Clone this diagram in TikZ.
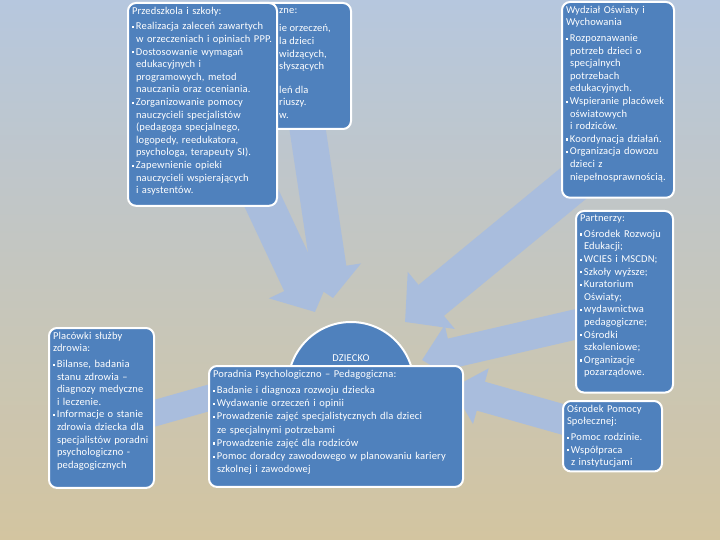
\documentclass[tikz,border=0pt]{standalone}
\usepackage{xcolor}
\usepackage{fontspec}
\setmainfont{Carlito}[LetterSpace=1.5]
\usepackage{tikz}
\usetikzlibrary{arrows.meta,positioning,calc}

\definecolor{boxblue}{RGB}{79,129,189}
\definecolor{arrowblue}{RGB}{169,189,221}
\definecolor{bgtop}{RGB}{182,199,222}
\definecolor{bgmid}{RGB}{226,225,214}
\definecolor{bgbot}{RGB}{211,197,160}

\newcommand{\sq}{\rule[0.35ex]{2.2pt}{2.2pt}\,}
\newcommand{\ind}{\hspace*{4pt}}

\pgfdeclarelayer{bg}
\pgfdeclarelayer{mid}
\pgfsetlayers{bg,mid,main}

\begin{document}
\begin{tikzpicture}[x=1pt, y=-1pt,
  every node/.style={font=\fontsize{10.5}{12.6}\selectfont},
  box/.style={draw=white, line width=2pt, fill=boxblue, rounded corners=8pt,
    text=white, align=left, anchor=north west, inner xsep=4pt, inner ysep=4pt},
  bigarrow/.style={arrowblue, line width=#1},
  bigarrow/.default=38pt]

  % tlo
  \begin{pgfonlayer}{bg}
    \shade[top color=bgtop, middle color=bgmid, bottom color=bgbot]
      (0,0) rectangle (720,540);
  \end{pgfonlayer}
  \useasboundingbox (0,0) rectangle (720,540);

  % ramka zaslonieta
  \node[box, minimum width=100pt, minimum height=126pt] (specjalne) at (250,2) {};
  \node[text=white, align=left, anchor=north west, inner sep=0pt] (specjalnetxt) at (279,8) {%
    zne:\\[6pt] ie orzeczeń,\\ la dzieci\\ widzących,\\ słyszących\\[11pt]
    leń dla\\ riuszy.\\ w.};

  \node[box, text width=141pt] (skoly) at (127,2) {%
    Przedszkola i szkoły:\\[3pt]
    \sq Realizacja zaleceń zawartych\\
    \ind\mbox{w orzeczeniach i opiniach PPP.}\\
    \sq Dostosowanie wymagań\\
    \ind edukacyjnych i\\
    \ind programowych, metod\\
    \ind nauczania oraz oceniania.\\
    \sq Zorganizowanie pomocy\\
    \ind nauczycieli specjalistów\\
    \ind (pedagoga specjalnego,\\
    \ind logopedy, reedukatora,\\
    \ind psychologa, terapeuty SI).\\
    \sq Zapewnienie opieki\\
    \ind nauczycieli wspierających\\
    \ind i asystentów.\\[-4.5pt]\mbox{}};

  \node[box, text width=104pt] (wydzial) at (561,1) {%
    Wydział Oświaty i\\
    Wychowania\\[3pt]
    \sq Rozpoznawanie\\
    \ind potrzeb dzieci o\\
    \ind specjalnych\\
    \ind potrzebach\\
    \ind edukacyjnych.\\
    \sq Wspieranie placówek\\
    \ind oświatowych\\
    \ind i rodziców.\\
    \sq Koordynacja działań.\\
    \sq Organizacja dowozu\\
    \ind dzieci z\\
    \ind niepełnosprawnością.\\[1pt]\mbox{}};

  \node[box, text width=89pt] (partnerzy) at (575,210) {%
    Partnerzy:\\[3pt]
    \sq Ośrodek Rozwoju\\
    \ind Edukacji;\\
    \sq WCIES i MSCDN;\\
    \sq Szkoły wyższe;\\
    \sq Kuratorium\\
    \ind Oświaty;\\
    \sq wydawnictwa\\
    \ind pedagogiczne;\\
    \sq Ośrodki\\
    \ind szkoleniowe;\\
    \sq Organizacje\\
    \ind pozarządowe.\\[0pt]\mbox{}};

  \node[box, text width=91pt] (osrodek) at (562,400) {%
    Ośrodek Pomocy\\
    Społecznej:\\[3pt]
    \sq Pomoc rodzinie.\\
    \sq Współpraca\\
    \ind z instytucjami};

  \node[box, text width=97pt] (placowki) at (48,327) {%
    Placówki służby\\
    zdrowia:\\[3pt]
    \sq Bilanse, badania\\
    \ind stanu zdrowia --\\
    \ind diagnozy medyczne\\
    \ind i leczenie.\\
    \sq Informacje o stanie\\
    \ind zdrowia dziecka dla\\
    \ind specjalistów poradni\\
    \ind psychologiczno -\\
    \ind pedagogicznych\\[3pt]\mbox{}};

  \node[circle, draw=white, line width=2pt, fill=boxblue, minimum size=126pt] (dziecko) at (351,385) {};
  \node[text=white] (dzieckotxt) at (351,358) {DZIECKO};

  \node[box, text width=246pt, font=\fontsize{10.5}{13.2}\selectfont] (poradnia) at (208,365) {%
    Poradnia Psychologiczno -- Pedagogiczna:\\[3pt]
    \sq Badanie i diagnoza rozwoju dziecka\\
    \sq Wydawanie orzeczeń i opinii\\
    \sq Prowadzenie zajęć specjalistycznych dla dzieci\\
    \ind ze specjalnymi potrzebami\\
    \sq Prowadzenie zajęć dla rodziców\\
    \sq Pomoc doradcy zawodowego w planowaniu kariery\\
    \ind szkolnej i zawodowej\\[-3pt]\mbox{}};

  % strzalki do dziecka
  \coordinate (tipA) at (315,312);
  \coordinate (tipB) at (333,298);
  \coordinate (tipC) at (405,322);
  \coordinate (tipD) at (422,360);
  \coordinate (tipE) at (452,388);
  \coordinate (tipF) at (265,382);
  \begin{pgfonlayer}{mid}
    \draw[bigarrow, -{Triangle[width=70pt,length=32pt]}]
      ([shift={(-20,-16)}]skoly.south east) -- (tipA);
    \draw[bigarrow=36pt, -{Triangle[width=64pt,length=30pt]}]
      ([shift={(4,-18)}]specjalne.south) -- (tipB);
    \draw[bigarrow=40pt, -{Triangle[width=72pt,length=34pt]}]
      ([shift={(29,-29)}]wydzial.south west) -- (tipC);
    \draw[bigarrow=30pt, -{Triangle[width=56pt,length=30pt]}]
      ([shift={(25,17)}]partnerzy.west) -- (tipD);
    \draw[bigarrow=30pt, -{Triangle[width=56pt,length=30pt]}]
      ([shift={(18,-12)}]osrodek.west) -- (tipE);
    \draw[bigarrow=26pt, -{Triangle[width=50pt,length=26pt]}]
      ([shift={(-10,8)}]placowki.east) -- (tipF);
  \end{pgfonlayer}
\end{tikzpicture}
\end{document}
